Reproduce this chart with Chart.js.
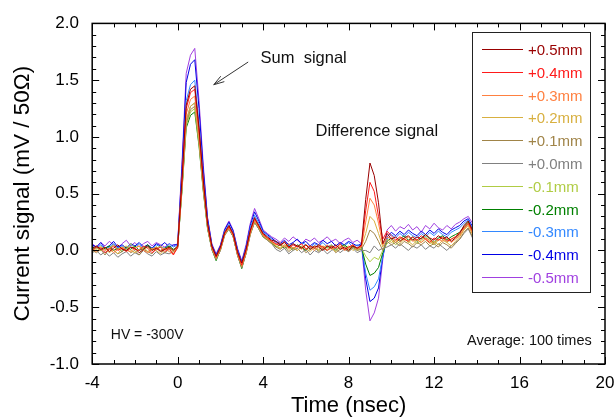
<!DOCTYPE html>
<html>
<head>
<meta charset="utf-8">
<script src="https://cdn.jsdelivr.net/npm/chart.js@4"></script>
<style>
  html, body { margin: 0; padding: 0; background: #fff; }
  #wrap { width: 615px; height: 417px; }
</style>
</head>
<body>
<div id="wrap"><canvas id="chart" width="615" height="417"></canvas></div>
<script>
'use strict';

// sampling grid, ns (-4 .. 14, step 0.2)
const TIME = Array.from({ length: 91 }, (_, i) => Math.round((-4 + i * 0.2) * 10) / 10);

const LABELS = ['+0.5mm', '+0.4mm', '+0.3mm', '+0.2mm', '+0.1mm', '+0.0mm', '-0.1mm', '-0.2mm', '-0.3mm', '-0.4mm', '-0.5mm'];
const COLORS = ['#990000', '#ff1a1a', '#ff8040', '#d8b040', '#a08448', '#808080', '#b0cc44', '#008000', '#3388ff', '#0000e6', '#a040e0'];

const X_TICKS = [-4, 0, 4, 8, 12, 16, 20];
const Y_TICKS = [-1.0, -0.5, 0.0, 0.5, 1.0, 1.5, 2.0];

// current signal, mV / 50 ohm
const P05 = [0.02,0.04,0.01,0.03,-0.01,0.02,0.05,0.01,0.00,0.03,0.02,-0.02,0.01,0.04,0.00,0.02,-0.01,0.01,0.03,0.00,
  0.04,0.62,1.28,1.42,1.45,1.08,0.62,0.24,0.04,-0.05,0.03,0.16,0.22,0.15,-0.01,-0.11,0.01,0.18,0.29,0.22,0.15,0.12,0.09,
  0.08,0.05,0.07,0.03,0.06,0.04,0.02,0.05,0.01,0.04,0.03,0.00,0.04,0.02,0.05,0.01,0.03,0.00,0.04,0.02,0.05,
  0.45,0.77,0.66,0.42,0.06,
  0.15,0.10,0.12,0.08,0.11,0.13,0.09,0.12,0.10,0.14,0.11,0.09,0.13,0.10,0.12,0.08,0.11,0.15,0.22,0.26,0.18,0.14];
const P04 = [0.00,0.03,0.02,-0.02,0.01,0.04,0.00,0.02,-0.01,0.03,0.01,0.00,0.04,0.02,-0.02,0.01,0.03,-0.01,0.02,-0.04,
  0.03,0.60,1.25,1.39,1.42,1.06,0.60,0.23,0.03,-0.06,0.02,0.15,0.21,0.14,-0.02,-0.13,0.00,0.17,0.28,0.21,0.14,0.11,0.08,
  0.06,0.04,0.08,0.02,0.05,0.03,0.06,0.01,0.04,0.02,0.05,0.03,0.00,0.04,0.02,0.06,0.01,0.03,0.05,0.02,0.04,
  0.35,0.60,0.52,0.30,0.10,
  0.17,0.13,0.09,0.12,0.10,0.08,0.12,0.09,0.13,0.10,0.07,0.11,0.09,0.12,0.08,0.10,0.12,0.16,0.20,0.24,0.17,0.12];
const P03 = [0.01,-0.01,0.03,0.00,0.02,-0.02,0.01,0.03,0.00,-0.01,0.02,0.04,0.00,-0.02,0.01,0.03,0.00,0.02,-0.01,-0.03,
  0.04,0.58,1.20,1.33,1.36,1.02,0.58,0.22,0.03,-0.06,0.02,0.15,0.20,0.13,-0.03,-0.13,-0.01,0.16,0.27,0.21,0.14,0.11,0.08,
  0.05,0.07,0.03,0.06,0.02,0.04,0.01,0.05,0.03,0.00,0.04,0.02,0.05,0.01,0.03,0.04,0.00,0.02,0.05,0.01,0.03,
  0.25,0.46,0.40,0.24,0.05,
  0.12,0.10,0.07,0.11,0.09,0.12,0.08,0.10,0.07,0.11,0.09,0.06,0.10,0.08,0.11,0.07,0.10,0.13,0.19,0.23,0.15,0.11];
const P02 = [-0.01,0.02,0.00,0.03,-0.02,0.01,-0.03,0.02,0.04,0.00,-0.02,0.01,0.03,-0.01,0.02,0.00,-0.03,0.01,0.02,-0.01,
  0.03,0.55,1.15,1.27,1.30,0.97,0.55,0.21,0.02,-0.07,0.01,0.14,0.20,0.13,-0.03,-0.14,-0.02,0.15,0.26,0.20,0.13,0.10,0.07,
  0.04,0.02,0.05,0.01,0.03,0.00,0.04,0.02,-0.01,0.03,0.01,0.04,0.00,0.02,-0.01,0.03,0.01,0.04,0.00,0.02,0.03,
  0.15,0.30,0.26,0.15,0.03,
  0.10,0.07,0.09,0.06,0.10,0.08,0.05,0.09,0.07,0.10,0.06,0.08,0.05,0.09,0.07,0.04,0.08,0.12,0.18,0.22,0.14,0.10];
const P01 = [0.00,-0.02,0.01,-0.04,0.02,0.00,-0.03,-0.01,0.02,-0.02,0.00,-0.04,0.01,-0.01,-0.03,0.02,0.00,-0.02,0.01,-0.03,
  0.02,0.54,1.12,1.24,1.27,0.95,0.54,0.20,0.01,-0.08,0.00,0.13,0.19,0.12,-0.04,-0.15,-0.03,0.14,0.25,0.19,0.12,0.09,0.06,
  0.03,0.01,0.04,-0.01,0.02,0.00,0.03,-0.02,0.01,0.03,-0.01,0.02,0.00,0.03,-0.02,0.01,0.02,-0.01,0.03,0.00,0.01,
  0.08,0.18,0.15,0.08,0.00,
  0.08,0.05,0.07,0.04,0.08,0.06,0.03,0.07,0.05,0.08,0.04,0.06,0.03,0.07,0.05,0.02,0.06,0.10,0.16,0.20,0.12,0.08];
const P00 = [-0.02,0.00,-0.04,-0.01,-0.05,-0.02,-0.06,-0.03,-0.01,-0.05,-0.02,-0.04,0.00,-0.03,-0.05,-0.01,-0.04,-0.02,-0.03,-0.01,
  0.02,0.55,1.14,1.27,1.30,0.97,0.55,0.20,0.01,-0.08,0.00,0.14,0.19,0.12,-0.04,-0.15,-0.03,0.14,0.25,0.19,0.12,0.09,0.06,
  0.01,-0.01,0.02,-0.03,0.00,0.02,-0.02,0.01,-0.04,0.00,-0.02,0.01,-0.03,0.00,0.02,-0.02,0.01,-0.01,0.02,-0.02,0.00,
  0.00,-0.02,0.04,0.00,0.02,
  0.03,0.05,0.02,0.06,0.03,0.00,0.04,0.02,0.05,0.01,0.04,0.02,0.06,0.03,0.00,0.04,0.07,0.10,0.15,0.19,0.11,0.06];
const M01 = [0.03,0.01,0.04,0.00,0.02,0.05,0.01,0.03,0.00,0.06,0.02,0.04,0.01,0.03,0.00,0.02,0.04,0.01,0.03,0.00,
  0.04,0.53,1.10,1.22,1.25,0.94,0.53,0.20,0.02,-0.06,0.02,0.14,0.20,0.13,-0.03,-0.13,-0.01,0.16,0.26,0.20,0.13,0.10,0.08,
  0.04,0.02,0.05,0.03,0.00,0.04,0.02,0.05,0.01,0.03,0.00,0.04,0.02,0.05,0.01,0.03,0.04,0.01,0.03,0.00,0.02,
  -0.05,-0.10,-0.06,-0.08,0.00,
  0.06,0.09,0.05,0.08,0.11,0.07,0.10,0.06,0.09,0.12,0.08,0.05,0.09,0.11,0.07,0.10,0.12,0.14,0.19,0.24,0.16,0.12];
const M02 = [0.01,0.03,0.00,0.02,0.04,0.00,0.02,-0.01,0.03,0.01,0.04,0.00,0.02,0.05,0.01,0.03,0.00,0.02,0.04,0.01,
  0.03,0.52,1.08,1.19,1.22,0.92,0.52,0.19,0.01,-0.09,0.01,0.14,0.19,0.12,-0.04,-0.16,-0.02,0.15,0.25,0.19,0.12,0.10,0.07,
  0.03,0.05,0.02,0.04,0.01,0.05,0.03,0.00,0.04,0.02,0.05,0.01,0.03,0.04,0.00,0.03,0.05,0.02,0.04,0.01,0.03,
  -0.12,-0.22,-0.20,-0.15,-0.02,
  0.08,0.11,0.07,0.10,0.13,0.09,0.12,0.08,0.11,0.14,0.10,0.07,0.11,0.13,0.09,0.12,0.14,0.16,0.21,0.25,0.17,0.13];
const M03 = [0.04,0.02,0.05,0.01,0.03,0.06,0.02,0.04,0.01,0.05,0.03,0.06,0.02,0.04,0.01,0.05,0.03,0.02,0.06,0.03,
  0.05,0.64,1.32,1.46,1.50,1.12,0.64,0.25,0.04,-0.05,0.03,0.17,0.23,0.16,0.00,-0.11,0.02,0.20,0.31,0.24,0.16,0.13,0.10,
  0.07,0.05,0.08,0.04,0.06,0.03,0.07,0.05,0.02,0.06,0.04,0.07,0.03,0.05,0.02,0.06,0.04,0.07,0.03,0.05,0.04,
  -0.20,-0.35,-0.32,-0.25,-0.05,
  0.10,0.14,0.11,0.15,0.12,0.16,0.13,0.11,0.15,0.12,0.16,0.13,0.17,0.14,0.12,0.16,0.18,0.20,0.24,0.27,0.19,0.15];
const M04 = [0.05,0.03,0.07,0.02,0.04,0.08,0.03,0.05,0.02,0.06,0.04,0.07,0.03,0.05,0.02,0.06,0.04,0.07,0.03,0.05,
  0.05,0.72,1.48,1.64,1.68,1.25,0.71,0.28,0.05,-0.04,0.04,0.18,0.25,0.17,0.01,-0.10,0.03,0.22,0.34,0.26,0.17,0.14,0.11,
  0.08,0.06,0.09,0.05,0.07,0.10,0.06,0.08,0.04,0.07,0.05,0.09,0.06,0.08,0.04,0.07,0.05,0.08,0.06,0.04,0.06,
  -0.25,-0.45,-0.42,-0.33,-0.05,
  0.12,0.16,0.13,0.17,0.14,0.18,0.15,0.13,0.17,0.14,0.18,0.15,0.19,0.16,0.14,0.18,0.20,0.22,0.26,0.28,0.21,0.17];
const M05 = [0.06,0.03,0.07,0.04,0.08,0.05,0.02,0.06,0.09,0.04,0.07,0.03,0.06,0.08,0.04,0.07,0.05,0.03,0.06,0.04,
  0.06,0.76,1.56,1.72,1.78,1.32,0.75,0.29,0.06,-0.03,0.05,0.19,0.26,0.18,0.02,-0.09,0.05,0.24,0.37,0.28,0.18,0.15,0.12,
  0.10,0.07,0.11,0.08,0.12,0.09,0.06,0.10,0.08,0.11,0.07,0.09,0.12,0.08,0.10,0.06,0.09,0.11,0.07,0.09,0.06,
  -0.35,-0.62,-0.55,-0.42,-0.08,
  0.18,0.22,0.17,0.21,0.19,0.23,0.18,0.21,0.16,0.22,0.19,0.24,0.20,0.18,0.22,0.19,0.23,0.25,0.28,0.30,0.24,0.20];

const SERIES = [P05, P04, P03, P02, P01, P00, M01, M02, M03, M04, M05];

const FONT = "'Liberation Sans', Arial, sans-serif";

// inward ticks, frame, legend box and text notes
const decorations = {
    id: 'decorations',
    afterDraw(chart) {
        const { ctx, chartArea: a, scales: { x, y } } = chart;
        ctx.save();
        ctx.strokeStyle = '#000';
        ctx.lineWidth = 1;
        ctx.beginPath();
        for (let i = 0; i <= 24; i++) {
            const v = X_TICKS[0] + i;
            const px = Math.round(x.getPixelForValue(v)) + 0.5;
            const len = X_TICKS.includes(v) ? 7 : 4;
            ctx.moveTo(px, a.bottom); ctx.lineTo(px, a.bottom - len);
            ctx.moveTo(px, a.top); ctx.lineTo(px, a.top + len);
        }
        for (let i = 0; i <= 30; i++) {
            const v = Y_TICKS[0] + i * 0.1;
            const py = Math.round(y.getPixelForValue(v)) + 0.5;
            const len = i % 5 === 0 ? 7 : 4;
            ctx.moveTo(a.left, py); ctx.lineTo(a.left + len, py);
            ctx.moveTo(a.right, py); ctx.lineTo(a.right - len, py);
        }
        ctx.stroke();
        ctx.lineWidth = 1.5;
        ctx.strokeRect(a.left, a.top, a.right - a.left, a.bottom - a.top);

        // legend
        const lx = 472.5, ly = 32.5, lw = 118, lh = 260;
        ctx.fillStyle = '#fff';
        ctx.fillRect(lx, ly, lw, lh);
        ctx.lineWidth = 1;
        ctx.strokeStyle = '#222';
        ctx.strokeRect(lx, ly, lw, lh);
        ctx.font = '15px ' + FONT;
        ctx.textBaseline = 'middle';
        ctx.textAlign = 'left';
        LABELS.forEach((lab, i) => {
            const yy = Math.round(49 + i * 22.8) + 0.5;
            ctx.strokeStyle = COLORS[i];
            ctx.beginPath();
            ctx.moveTo(482, yy); ctx.lineTo(523, yy);
            ctx.stroke();
            ctx.fillStyle = COLORS[i];
            ctx.fillText(lab, 528, yy + 1);
        });

        // notes
        ctx.fillStyle = '#111';
        ctx.font = '16.5px ' + FONT;
        ctx.fillText('Sum  signal', x.getPixelForValue(3.88), y.getPixelForValue(1.69));
        ctx.fillText('Difference signal', x.getPixelForValue(6.45), y.getPixelForValue(1.05));
        ctx.font = '14px ' + FONT;
        ctx.fillText('HV = -300V', x.getPixelForValue(-3.13), y.getPixelForValue(-0.75));
        ctx.font = '14.5px ' + FONT;
        ctx.textAlign = 'right';
        ctx.fillText('Average: 100 times', x.getPixelForValue(19.38), y.getPixelForValue(-0.80));

        // arrow to the sum peak
        const x0 = x.getPixelForValue(3.3), y0 = y.getPixelForValue(1.66);
        const x1 = x.getPixelForValue(1.69), y1 = y.getPixelForValue(1.46);
        const ang = Math.atan2(y0 - y1, x0 - x1);
        ctx.strokeStyle = '#333';
        ctx.lineWidth = 1;
        ctx.beginPath();
        ctx.moveTo(x0, y0); ctx.lineTo(x1, y1);
        ctx.moveTo(x1 + 11 * Math.cos(ang - 0.3), y1 + 11 * Math.sin(ang - 0.3));
        ctx.lineTo(x1, y1);
        ctx.lineTo(x1 + 11 * Math.cos(ang + 0.3), y1 + 11 * Math.sin(ang + 0.3));
        ctx.stroke();
        ctx.restore();
    }
};

const datasets = SERIES.map((vals, i) => ({
    label: LABELS[i],
    data: vals.map((v, k) => ({ x: TIME[k], y: v })),
    borderColor: COLORS[i],
    borderWidth: 1,
    pointRadius: 0,
    tension: 0,
    fill: false
}));

new Chart(document.getElementById('chart').getContext('2d'), {
    type: 'line',
    data: { datasets },
    options: {
        responsive: false,
        animation: false,
        events: [],
        layout: { padding: { left: 4, right: 0, top: 21, bottom: 0 } },
        plugins: { legend: { display: false }, tooltip: { enabled: false } },
        scales: {
            x: {
                type: 'linear',
                min: X_TICKS[0],
                max: X_TICKS[X_TICKS.length - 1],
                afterBuildTicks: (s) => { s.ticks = X_TICKS.map(v => ({ value: v })); },
                // the "20" label only needs half its width past the frame
                afterFit: (s) => { s.paddingRight = 10; },
                ticks: { color: '#000', font: { family: FONT, size: 17, lineHeight: 1 }, padding: 11, maxRotation: 0 },
                grid: { display: false, drawTicks: false },
                border: { display: false },
                title: { display: true, text: 'Time (nsec)', color: '#000', font: { family: FONT, size: 22, lineHeight: 1 }, padding: { top: -8, bottom: 0 } }
            },
            y: {
                min: Y_TICKS[0],
                max: Y_TICKS[Y_TICKS.length - 1],
                afterBuildTicks: (s) => { s.ticks = Y_TICKS.map(v => ({ value: v })); },
                ticks: { color: '#000', font: { family: FONT, size: 17 }, padding: 13.2, callback: (v) => v.toFixed(1) },
                grid: { display: false, drawTicks: false },
                border: { display: false },
                title: { display: true, text: 'Current signal (mV / 50\u03A9)', color: '#000', font: { family: FONT, size: 22.5 }, padding: { top: 5.5, bottom: 0 } }
            }
        }
    },
    plugins: [decorations]
});
</script>
</body>
</html>
